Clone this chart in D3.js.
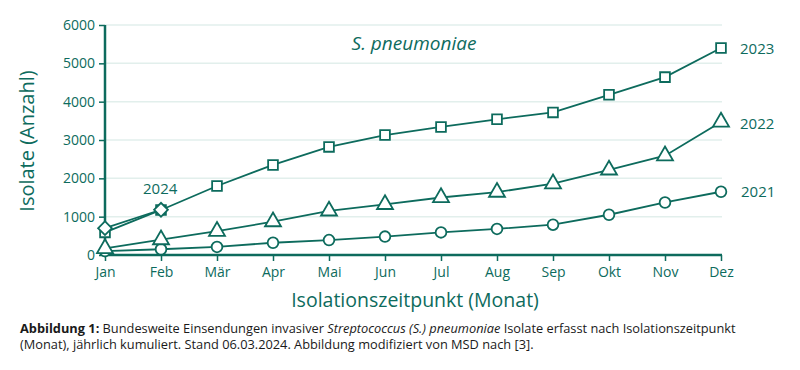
<!DOCTYPE html>
<html>
<head>
<meta charset="utf-8">
<script src="https://cdn.jsdelivr.net/npm/d3@7"></script>
<style>
  body { margin: 0; background: #fff; }
  svg { display: block; }
  text { font-family: "Open Sans", "Noto Sans", sans-serif; }
</style>
</head>
<body>
<svg id="chart" width="800" height="370"></svg>
<script>
var months = ["Jan", "Feb", "Mär", "Apr", "Mai", "Jun", "Jul", "Aug", "Sep", "Okt", "Nov", "Dez"];
var yTicks = [0, 1000, 2000, 3000, 4000, 5000, 6000];

var y2021 = [100, 150, 210, 320, 390, 480, 590, 680, 790, 1050, 1370, 1650];
var y2022 = [170, 400, 620, 870, 1150, 1320, 1500, 1640, 1860, 2220, 2590, 3470];
var y2023 = [590, 1175, 1800, 2350, 2820, 3130, 3340, 3540, 3720, 4180, 4640, 5400];
var y2024 = [700, 1180];

var teal = "#0d6b5d";

var svg = d3.select("#chart");

var x = d3.scalePoint()
    .domain(months)
    .range([105, 721]);

var y = d3.scaleLinear()
    .domain([0, 6000])
    .range([255, 25]);

// gridlines
svg.append("g")
    .selectAll("line")
    .data(yTicks.slice(1))
    .enter().append("line")
    .attr("x1", 105)
    .attr("x2", 722)
    .attr("y1", function(d) { return y(d); })
    .attr("y2", function(d) { return y(d); })
    .attr("stroke", "#e2efec")
    .attr("stroke-width", 1.5);

// axes
var xAxis = svg.append("g")
    .attr("transform", "translate(0,255)")
    .call(d3.axisBottom(x).tickSize(6).tickPadding(6));
xAxis.select(".domain").attr("stroke", teal).attr("stroke-width", 2.5)
    .attr("d", "M104,0H722");
xAxis.selectAll(".tick line").attr("stroke", teal).attr("stroke-width", 1.5);
xAxis.selectAll(".tick text").attr("fill", teal).attr("font-size", 14)
    .attr("font-family", "'Open Sans', sans-serif");

var yAxis = svg.append("g")
    .attr("transform", "translate(105,0)")
    .call(d3.axisLeft(y).tickValues(yTicks).tickSize(6).tickPadding(4).tickFormat(d3.format("d")));
yAxis.select(".domain").attr("stroke", teal).attr("stroke-width", 2.5)
    .attr("d", "M0,25V256");
yAxis.selectAll(".tick line").attr("stroke", teal).attr("stroke-width", 1.5);
yAxis.selectAll(".tick text").attr("fill", teal).attr("font-size", 14)
    .attr("font-family", "'Open Sans', sans-serif");

// axis titles
svg.append("text")
    .attr("transform", "translate(34,141) rotate(-90)")
    .attr("text-anchor", "middle")
    .attr("fill", teal)
    .attr("font-size", 20)
    .text("Isolate (Anzahl)");

svg.append("text")
    .attr("x", 415)
    .attr("y", 307)
    .attr("text-anchor", "middle")
    .attr("fill", teal)
    .attr("font-size", 19.5)
    .text("Isolationszeitpunkt (Monat)");

svg.append("text")
    .attr("x", 414)
    .attr("y", 50)
    .attr("text-anchor", "middle")
    .attr("fill", teal)
    .attr("font-size", 19)
    .attr("font-style", "italic")
    .text("S. pneumoniae");

var line = d3.line()
    .x(function(d, i) { return x(months[i]); })
    .y(function(d) { return y(d); });

function drawSeries(values, symbolType, size, rotate) {
    var g = svg.append("g");
    g.append("path")
        .datum(values)
        .attr("fill", "none")
        .attr("stroke", teal)
        .attr("stroke-width", 1.8)
        .attr("d", line);
    g.selectAll("path.mark")
        .data(values)
        .enter().append("path")
        .attr("class", "mark")
        .attr("d", d3.symbol().type(symbolType).size(size))
        .attr("transform", function(d, i) {
            return "translate(" + x(months[i]) + "," + y(d) + ")" + (rotate ? " rotate(" + rotate + ")" : "");
        })
        .attr("fill", "#fff")
        .attr("stroke", teal)
        .attr("stroke-width", 1.8);
}

drawSeries(y2021, d3.symbolCircle, 90);
drawSeries(y2022, d3.symbolTriangle, 110);
drawSeries(y2023, d3.symbolSquare, 95);
drawSeries(y2024, d3.symbolSquare, 95, 45);

// series labels
var labels = [
    { text: "2023", x: 740, y: 54 },
    { text: "2022", x: 740, y: 129 },
    { text: "2021", x: 741, y: 197 },
    { text: "2024", x: 143, y: 194 }
];
svg.selectAll("text.serieslabel")
    .data(labels)
    .enter().append("text")
    .attr("class", "serieslabel")
    .attr("x", function(d) { return d.x; })
    .attr("y", function(d) { return d.y; })
    .attr("fill", teal)
    .attr("font-size", 15)
    .text(function(d) { return d.text; });

// caption
var cap1 = svg.append("text")
    .attr("x", 20)
    .attr("y", 333)
    .attr("fill", "#1a1a1a")
    .attr("font-size", 12.8)
    .style("font-family", "'Open Sans', sans-serif");
cap1.append("tspan").attr("font-weight", "bold").text("Abbildung 1:");
cap1.append("tspan").text(" Bundesweite Einsendungen invasiver ");
cap1.append("tspan").attr("font-style", "italic").text("Streptococcus (S.) pneumoniae");
cap1.append("tspan").text(" Isolate erfasst nach Isolationszeitpunkt");

svg.append("text")
    .attr("x", 20)
    .attr("y", 349)
    .attr("fill", "#1a1a1a")
    .attr("font-size", 12.8)
    .style("font-family", "'Open Sans', sans-serif")
    .text("(Monat), jährlich kumuliert. Stand 06.03.2024. Abbildung modifiziert von MSD nach [3].");
</script>
</body>
</html>
